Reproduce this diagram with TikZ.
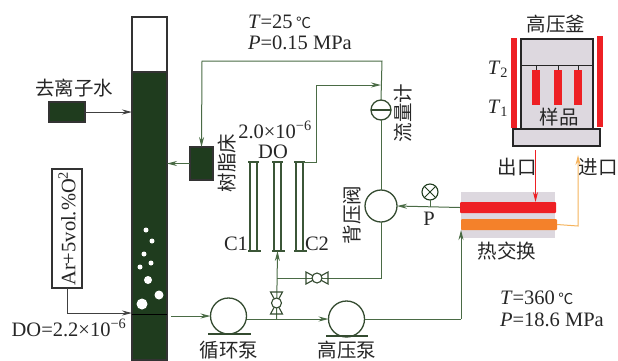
\documentclass[tikz,border=0pt]{standalone}
\usepackage{fontspec}
\setmainfont{Liberation Serif}
\newfontfamily\cjk{Noto Sans CJK SC}
\usetikzlibrary{arrows.meta}
\definecolor{darkgreen}{HTML}{1F3C1E}
\definecolor{pipegreen}{HTML}{4A6B45}
\definecolor{shellgray}{HTML}{DDD8DF}
\definecolor{heatred}{HTML}{EE2024}
\definecolor{coldorange}{HTML}{F4812A}
\definecolor{linkorange}{HTML}{F5B35C}
\begin{document}
\begin{tikzpicture}[x=1pt,y=-1pt,
  every node/.style={inner sep=0pt, outer sep=0pt},
  zh/.style={font=\fontsize{19.5}{22}\selectfont\cjk, text=black!85},
  lat/.style={font=\fontsize{20.5}{23}\selectfont, text=black!85},
  tank/.style={draw=black!80, line width=1.2pt, fill=darkgreen, minimum width=#1},
  pipe/.style={draw=pipegreen, line width=1pt},
  flow/.style={pipe, -{Stealth[length=10pt,width=5pt]}},
  pumpbody/.style={circle, draw=pipegreen!70!black, line width=1.3pt, fill=white, minimum size=36pt},
  tube/.style={draw=pipegreen!80!black, line width=1.3pt},
  heater/.style={fill=heatred, minimum width=#1},
  valve/.pic={
    \draw[pipegreen!70!black, line width=1.1pt] (-11,-6) -- (11,6) -- (11,-6) -- (-11,6) -- cycle;
    \draw[pipegreen!70!black, line width=1.1pt, fill=white] (0,0) circle (5);
  }
]
\useasboundingbox (0,0) rectangle (618,360);

% water column
\node[draw=black!80, line width=1.2pt, fill=white, minimum width=35pt, minimum height=56pt] (top) at (149.5,45) {};
\node[tank=35pt, minimum height=288pt] (col) at (149.5,216) {};
\draw[black, line width=1pt] (132,314) -- (167,314);
\foreach \x/\y/\r in {146/230/2.5, 152/241/2.5, 144/254/2.5, 151/263/2.5, 140/267/2.5, 148/280/4, 159/295/4.5, 142/304/5.5}
  \fill[white] (\x,\y) circle (\r);

% feed on the left
\node[zh] (waterlbl) at (74,88) {去离子水};
\node[tank=36pt, minimum height=20pt] (water) at (67,112) {};
\draw[flow, draw=black!75] (water) -- (water -| col.west);
\node[draw=black!80, line width=1.2pt, fill=white, minimum width=30pt, minimum height=119pt] (gas) at (67,228.5) {};
\node[lat, rotate=90] at (gas) {Ar+5vol.\%O\textsuperscript{2}};
\draw[flow, draw=black!75] (gas.south) |- (col.west |- 0,313);
\node[lat] (dolbl) at (69,328) {DO=2.2×10\textsuperscript{−6}};

% resin bed and return line
\node[tank=23pt, minimum height=33pt] (resin) at (201.5,163.5) {};
\node[zh, rotate=90] (resinlbl) at (227,163) {树脂床};
\draw[flow] (resin.west) -- (resin.west -| col.east);

% backpressure valve, flow meter
\node[pumpbody, minimum size=32pt] (bpv) at (381,206) {};
\node[circle, draw=pipegreen!70!black, line width=1.3pt, fill=white, minimum size=20pt] (fm) at (381,110) {};
\draw[pipegreen!70!black, line width=1.1pt] (fm.west) -- (fm.east);
\coordinate (topright) at (382,61);
\coordinate (topleft) at (202,61);
\draw[flow] (fm.north) -- (topright) -- (topleft) -- (resin.north);
\draw[pipe] (fm.south) -- (bpv.north);
\node[zh, rotate=90] (fmlbl) at (403,113) {流量计};
\node[zh, rotate=90] (bpvlbl) at (352,215) {背压阀};

% DO cells
\foreach \x/\n in {250/a,274/b,296/c} {
  \draw[tube] (\x,162) -- (\x,251) (\x+7,162) -- (\x+7,251);
  \draw[tube] (\x-2,162) -- (\x+9,162);
  \draw[tube] (\x-2,251) -- (\x+11,251);
  \coordinate (cell\n) at (\x+3.5,251);
}
\coordinate (cellout) at (316,162);
\coordinate (cellup) at (316,85);
\draw[pipe] (303,162) -- (cellout) -- (cellup);
\draw[flow] (cellup) -- (fm.north |- cellup);
\node[lat] (dolow) at (275,130) {2.0×10\textsuperscript{−6}};
\node[lat] (dolbl2) at (273,152) {DO};
\node[lat] (clbl) at (236,244) {C1};
\node[lat] (dlbl) at (317,244) {C2};

% pumps
\node[pumpbody] (pump) at (228.5,316) {};
\node[pumpbody] (hpp) at (346.5,319) {};
\draw[pipegreen!70!black, line width=1.3pt] (208,334) -- (251,334) (326,336) -- (368,336);
\node[zh] (pumplbl) at (229,350) {循环泵};
\node[zh] (hpplbl) at (347,350) {高压泵};
\draw[flow] ([xshift=4pt]col.east |- pump) -- (pump.west);
\draw[flow] (pump.east |- hpp) -- (hpp.west);

% branch through the two valves
\coordinate (split) at (276.5,319);
\coordinate (tee) at (276.5,278);
\coordinate (bend) at (381,278);
\draw[pipe] (bpv.south) -- (bend) -- (tee);
\draw[flow] (split) -- (cellb);
\pic at (317,278) {valve};
\pic[rotate=90] at (276.5,303) {valve};

% heat exchanger
\node[fill=shellgray, minimum width=94pt, minimum height=46pt] (hx) at (508,215) {};
\node[heater=96pt, minimum height=11pt, rounded corners=1pt] (hot) at (508,207.5) {};
\node[heater=96pt, minimum height=11pt, fill=coldorange, rounded corners=1pt] (cold) at (509,224.5) {};
\node[zh] (hxlbl) at (507,251) {热交换};
\coordinate (hxin) at (461,319);
\draw[pipe] (hpp.east) -- (hxin);
\draw[flow] (hxin) -- (cold.south west);
\node[circle, draw=darkgreen, line width=1.1pt, fill=white, minimum size=16pt] (gauge) at (430,192) {};
\draw[darkgreen, line width=0.8pt] (gauge.north west) -- (gauge.south east) (gauge.north east) -- (gauge.south west);
\draw[pipe] (gauge.south) -- (430,207);
\node[lat] (plbl) at (429,219) {P};
\draw[flow] (hot.west) -- (bpv.east);

% autoclave
\node[draw=black!85, line width=1.3pt, fill=shellgray, minimum width=72pt, minimum height=90pt] (vessel) at (557,84) {};
\node[draw=black!85, line width=1.3pt, fill=shellgray, minimum width=87pt, minimum height=17pt] (base) at (556.5,137.5) {};
\draw[black!85, line width=0.9pt] (521,65) -- (593,65);
\node[heater=6pt, minimum height=90pt] (heatl) at (514,83) {};
\node[heater=6pt, minimum height=91pt] (heatr) at (600,81.5) {};
\foreach \x/\n in {536/a,558/b,578/c} {
  \node[heater=8pt, minimum height=35pt] (sample\n) at (\x,87.5) {};
  \draw[black!85, line width=0.9pt] (\x,65) -- (sample\n.north);
}
\node[zh] (vessellbl) at (556,24) {高压釜};
\node[zh] (samplelbl) at (559,117) {样品};
\node[lat] (tb) at (498,69) {\textit{T}\textsubscript{2}};
\node[lat] (ta) at (498,108) {\textit{T}\textsubscript{1}};
\node[zh] (outlbl) at (517,167) {出口};
\node[zh] (inlbl) at (598,167) {进口};
\draw[heatred, line width=0.9pt, -{Stealth[length=10pt,width=5pt]}] (535.5,150) -- (hot.north -| 535.5,0);
\coordinate (coldturn) at (578,226);
\draw[linkorange, line width=1pt, -{Stealth[length=10pt,width=5pt]}] (cold.east) -- (coldturn) -- (578,155);

% operating conditions
\node[lat, anchor=west] (cond1) at (248,22) {\textit{T}=25\,{\cjk\fontsize{15}{15}\selectfont ℃}};
\node[lat, anchor=west] (cond2) at (248,43) {\textit{P}=0.15 MPa};
\node[lat, anchor=west] (cond3) at (500,298) {\textit{T}=360\,{\cjk\fontsize{15}{15}\selectfont ℃}};
\node[lat, anchor=west] (cond4) at (500,320) {\textit{P}=18.6 MPa};
\end{tikzpicture}
\end{document}
